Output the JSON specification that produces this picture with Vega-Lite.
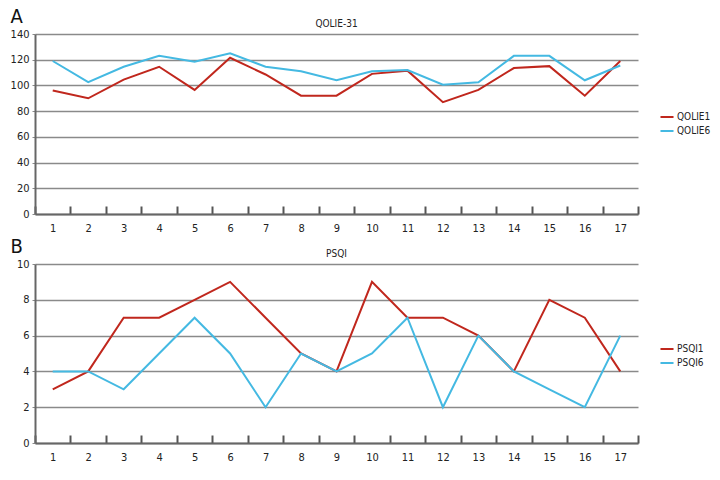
{
  "$schema": "https://vega.github.io/schema/vega-lite/v6.json",
  "background": "white",
  "padding": {"left": 10, "top": 6, "right": 5, "bottom": 5},
  "config": {
    "font": "DejaVu Sans Condensed",
    "view": {"stroke": null},
    "axis": {"labelFont": "DejaVu Sans Condensed", "titleFont": "DejaVu Sans Condensed", "labelColor": "#222", "labelFontSize": 11},
    "legend": {"labelFont": "DejaVu Sans Condensed"},
    "title": {"font": "DejaVu Sans Condensed"}
  },
  "datasets": {
    "qolie": [
      {"patient": 1, "series": "QOLIE1", "score": 96}, {"patient": 2, "series": "QOLIE1", "score": 90},
      {"patient": 3, "series": "QOLIE1", "score": 104.5}, {"patient": 4, "series": "QOLIE1", "score": 114.5},
      {"patient": 5, "series": "QOLIE1", "score": 96.5}, {"patient": 6, "series": "QOLIE1", "score": 121.5},
      {"patient": 7, "series": "QOLIE1", "score": 108.5}, {"patient": 8, "series": "QOLIE1", "score": 92},
      {"patient": 9, "series": "QOLIE1", "score": 92}, {"patient": 10, "series": "QOLIE1", "score": 109},
      {"patient": 11, "series": "QOLIE1", "score": 111.5}, {"patient": 12, "series": "QOLIE1", "score": 87},
      {"patient": 13, "series": "QOLIE1", "score": 96.5}, {"patient": 14, "series": "QOLIE1", "score": 113.5},
      {"patient": 15, "series": "QOLIE1", "score": 115}, {"patient": 16, "series": "QOLIE1", "score": 92},
      {"patient": 17, "series": "QOLIE1", "score": 119},
      {"patient": 1, "series": "QOLIE6", "score": 119}, {"patient": 2, "series": "QOLIE6", "score": 102.5},
      {"patient": 3, "series": "QOLIE6", "score": 114.5}, {"patient": 4, "series": "QOLIE6", "score": 123},
      {"patient": 5, "series": "QOLIE6", "score": 118.5}, {"patient": 6, "series": "QOLIE6", "score": 125},
      {"patient": 7, "series": "QOLIE6", "score": 114.5}, {"patient": 8, "series": "QOLIE6", "score": 111},
      {"patient": 9, "series": "QOLIE6", "score": 104}, {"patient": 10, "series": "QOLIE6", "score": 111},
      {"patient": 11, "series": "QOLIE6", "score": 112}, {"patient": 12, "series": "QOLIE6", "score": 100.5},
      {"patient": 13, "series": "QOLIE6", "score": 102.5}, {"patient": 14, "series": "QOLIE6", "score": 123},
      {"patient": 15, "series": "QOLIE6", "score": 123}, {"patient": 16, "series": "QOLIE6", "score": 104},
      {"patient": 17, "series": "QOLIE6", "score": 115.5}
    ],
    "psqi": [
      {"patient": 1, "series": "PSQI1", "score": 3}, {"patient": 2, "series": "PSQI1", "score": 4},
      {"patient": 3, "series": "PSQI1", "score": 7}, {"patient": 4, "series": "PSQI1", "score": 7},
      {"patient": 5, "series": "PSQI1", "score": 8}, {"patient": 6, "series": "PSQI1", "score": 9},
      {"patient": 7, "series": "PSQI1", "score": 7}, {"patient": 8, "series": "PSQI1", "score": 5},
      {"patient": 9, "series": "PSQI1", "score": 4}, {"patient": 10, "series": "PSQI1", "score": 9},
      {"patient": 11, "series": "PSQI1", "score": 7}, {"patient": 12, "series": "PSQI1", "score": 7},
      {"patient": 13, "series": "PSQI1", "score": 6}, {"patient": 14, "series": "PSQI1", "score": 4},
      {"patient": 15, "series": "PSQI1", "score": 8}, {"patient": 16, "series": "PSQI1", "score": 7},
      {"patient": 17, "series": "PSQI1", "score": 4},
      {"patient": 1, "series": "PSQI6", "score": 4}, {"patient": 2, "series": "PSQI6", "score": 4},
      {"patient": 3, "series": "PSQI6", "score": 3}, {"patient": 4, "series": "PSQI6", "score": 5},
      {"patient": 5, "series": "PSQI6", "score": 7}, {"patient": 6, "series": "PSQI6", "score": 5},
      {"patient": 7, "series": "PSQI6", "score": 2}, {"patient": 8, "series": "PSQI6", "score": 5},
      {"patient": 9, "series": "PSQI6", "score": 4}, {"patient": 10, "series": "PSQI6", "score": 5},
      {"patient": 11, "series": "PSQI6", "score": 7}, {"patient": 12, "series": "PSQI6", "score": 2},
      {"patient": 13, "series": "PSQI6", "score": 6}, {"patient": 14, "series": "PSQI6", "score": 4},
      {"patient": 15, "series": "PSQI6", "score": 3}, {"patient": 16, "series": "PSQI6", "score": 2},
      {"patient": 17, "series": "PSQI6", "score": 6}
    ]
  },
  "spacing": 3,
  "resolve": {"scale": {"color": "independent"}, "legend": {"color": "independent"}},
  "vconcat": [
    {
      "width": 603,
      "height": 180,
      "data": {"name": "qolie"},
      "title": {"text": "QOLIE-31", "fontSize": 10, "fontWeight": "normal", "anchor": "middle", "offset": -23, "color": "#222"},
      "mark": {"type": "line", "strokeWidth": 2},
      "encoding": {
        "x": {
          "field": "patient", "type": "ordinal", "bandPosition": 0.5,
          "scale": {"type": "band", "paddingInner": 0, "paddingOuter": 0},
          "axis": {"title": null, "labelAngle": 0, "tickBand": "extent", "tickSize": -8, "tickWidth": 2, "tickColor": "#555", "domainColor": "#666", "domainWidth": 2, "labelPadding": 16, "grid": false}
        },
        "y": {
          "field": "score", "type": "quantitative",
          "scale": {"domain": [0, 140], "nice": false},
          "axis": {"values": [0, 20, 40, 60, 80, 100, 120, 140], "title": "A", "titleAngle": 0, "titleAlign": "left", "titleBaseline": "alphabetic", "titleX": -25, "titleY": -12, "titleFontSize": 20, "titleFontWeight": "normal", "titleColor": "#111", "grid": true, "gridColor": "#8a8a8a", "gridWidth": 1.5, "ticks": true, "tickSize": 3, "tickColor": "#8a8a8a", "domainColor": "#666", "domainWidth": 2, "labelPadding": 3}
        },
        "color": {
          "field": "series", "type": "nominal",
          "scale": {"domain": ["QOLIE1", "QOLIE6"], "range": ["#c0271d", "#44b9e2"]},
          "legend": {"title": null, "orient": "none", "legendX": 624, "legendY": 75, "symbolType": "stroke", "symbolSize": 170, "symbolStrokeWidth": 2, "labelFontSize": 10, "labelColor": "#222", "rowPadding": 1, "labelOffset": 2}
        }
      }
    },
    {
      "width": 603,
      "height": 179,
      "data": {"name": "psqi"},
      "title": {"text": "PSQI", "fontSize": 10, "fontWeight": "normal", "anchor": "middle", "offset": -23, "color": "#222"},
      "mark": {"type": "line", "strokeWidth": 2},
      "encoding": {
        "x": {
          "field": "patient", "type": "ordinal", "bandPosition": 0.5,
          "scale": {"type": "band", "paddingInner": 0, "paddingOuter": 0},
          "axis": {"title": null, "labelAngle": 0, "tickBand": "extent", "tickSize": -8, "tickWidth": 2, "tickColor": "#555", "domainColor": "#666", "domainWidth": 2, "labelPadding": 16, "grid": false}
        },
        "y": {
          "field": "score", "type": "quantitative",
          "scale": {"domain": [0, 10], "nice": false},
          "axis": {"values": [0, 2, 4, 6, 8, 10], "title": "B", "titleAngle": 0, "titleAlign": "left", "titleBaseline": "alphabetic", "titleX": -25, "titleY": -12, "titleFontSize": 20, "titleFontWeight": "normal", "titleColor": "#111", "grid": true, "gridColor": "#8a8a8a", "gridWidth": 1.5, "ticks": true, "tickSize": 3, "tickColor": "#8a8a8a", "domainColor": "#666", "domainWidth": 2, "labelPadding": 3}
        },
        "color": {
          "field": "series", "type": "nominal",
          "scale": {"domain": ["PSQI1", "PSQI6"], "range": ["#c0271d", "#44b9e2"]},
          "legend": {"title": null, "orient": "none", "legendX": 624, "legendY": 77, "symbolType": "stroke", "symbolSize": 170, "symbolStrokeWidth": 2, "labelFontSize": 10, "labelColor": "#222", "rowPadding": 1, "labelOffset": 2}
        }
      }
    }
  ]
}
